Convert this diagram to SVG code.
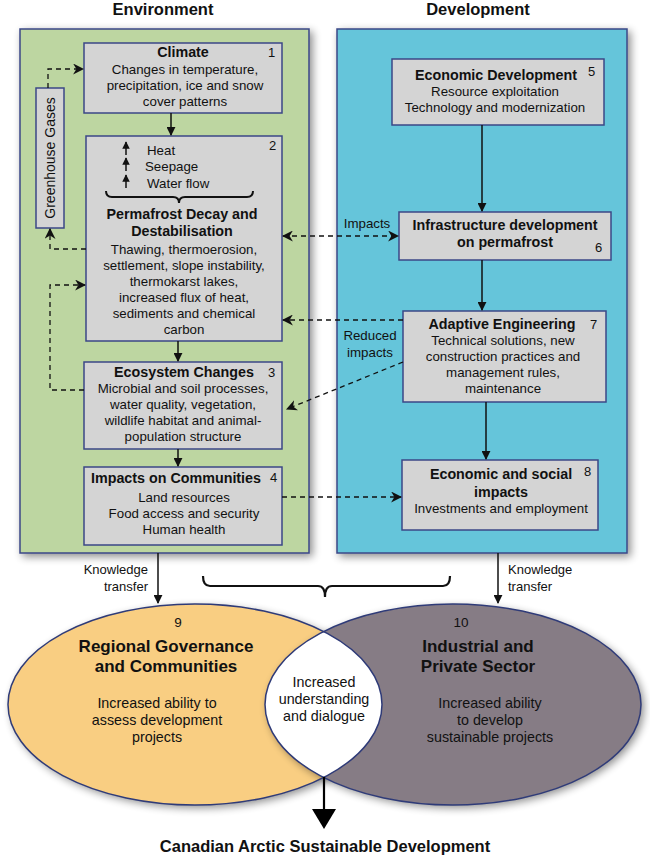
<svg xmlns="http://www.w3.org/2000/svg" width="650" height="856" viewBox="0 0 650 856">
<defs>
<style>
text{font-family:"Liberation Sans",Arial,sans-serif;fill:#111;}
.t{font-size:14.3px;font-weight:bold;text-anchor:middle;}
.b{font-size:13.3px;text-anchor:middle;}
.n{font-size:13px;}
.h{font-size:16.5px;font-weight:bold;text-anchor:middle;}
.box{fill:#d4d4d4;stroke:#3b4787;stroke-width:1.5;}
.sol{fill:none;stroke:#111;stroke-width:1.5;}
.dash{fill:none;stroke:#111;stroke-width:1.3;stroke-dasharray:5,4;}
</style>
<marker id="ah" viewBox="0 0 10 10" refX="9" refY="5" markerWidth="9" markerHeight="9" markerUnits="userSpaceOnUse" orient="auto"><path d="M0,0 L10,5 L0,10 z" fill="#111"/></marker>
<marker id="as" viewBox="0 0 10 10" refX="9" refY="5" markerWidth="7.5" markerHeight="7.5" markerUnits="userSpaceOnUse" orient="auto"><path d="M0,0 L10,5 L0,10 z" fill="#111"/></marker>
<marker id="ad" viewBox="0 0 10 10" refX="9" refY="5" markerWidth="11" markerHeight="11" markerUnits="userSpaceOnUse" orient="auto-start-reverse"><path d="M0,0 L10,5 L0,10 L3,5 z" fill="#111"/></marker>
<filter id="sh" x="-10%" y="-10%" width="125%" height="125%"><feGaussianBlur in="SourceAlpha" stdDeviation="4"/><feOffset dx="3" dy="3"/><feComponentTransfer><feFuncA type="linear" slope="0.45"/></feComponentTransfer><feMerge><feMergeNode/><feMergeNode in="SourceGraphic"/></feMerge></filter>
<clipPath id="clipR"><ellipse cx="453" cy="704.5" rx="188" ry="100.5"/></clipPath>
</defs>
<rect width="650" height="856" fill="#fff"/>

<g id="panel-environment">
<rect x="20" y="29" width="289" height="524" fill="#bdd6a1" stroke="#3b4787" stroke-width="1.5" filter="url(#sh)"/>
<text class="h" x="163" y="15">Environment</text>
</g>
<g id="panel-development">
<rect x="337" y="29" width="290" height="524" fill="#65c5da" stroke="#3b4787" stroke-width="1.5" filter="url(#sh)"/>
<text class="h" x="478" y="15">Development</text>
</g>

<g id="node-greenhouse">
<rect class="box" x="36" y="88" width="28" height="140"/>
<text class="b" transform="translate(55,158) rotate(-90)" style="font-size:14px">Greenhouse Gases</text>
</g>

<g id="node-1">
<rect class="box" x="84" y="43" width="198" height="70"/>
<text class="t" x="183" y="57">Climate</text>
<text class="n" x="268" y="57">1</text>
<text class="b" x="185" y="74">Changes in temperature,</text>
<text class="b" x="185" y="90">precipitation, ice and snow</text>
<text class="b" x="185" y="106">cover patterns</text>
</g>

<g id="node-2">
<rect class="box" x="86" y="136" width="196" height="205"/>
<text class="n" x="269" y="150">2</text>
<path d="M126,155 V142" class="sol" stroke-width="1.6" marker-end="url(#as)"/>
<path d="M126,171 V158" class="sol" stroke-width="1.6" marker-end="url(#as)"/>
<path d="M126,188 V175" class="sol" stroke-width="1.6" marker-end="url(#as)"/>
<text class="b" x="147" y="155" style="text-anchor:start">Heat</text>
<text class="b" x="145" y="171" style="text-anchor:start">Seepage</text>
<text class="b" x="147" y="188" style="text-anchor:start">Water flow</text>
<path d="M106,191 Q106,197 112,197 L173,197 Q179,197 179,203 Q179,197 185,197 L247,197 Q253,197 253,191" fill="none" stroke="#111" stroke-width="2"/>
<text class="t" x="182" y="219">Permafrost Decay and</text>
<text class="t" x="182" y="236">Destabilisation</text>
<text class="b" x="184" y="254">Thawing, thermoerosion,</text>
<text class="b" x="184" y="270">settlement, slope instability,</text>
<text class="b" x="184" y="286">thermokarst lakes,</text>
<text class="b" x="184" y="302">increased flux of heat,</text>
<text class="b" x="184" y="318">sediments and chemical</text>
<text class="b" x="184" y="334">carbon</text>
</g>

<g id="node-3">
<rect class="box" x="84" y="362" width="198" height="87"/>
<text class="t" x="184" y="377">Ecosystem Changes</text>
<text class="n" x="268" y="377">3</text>
<text class="b" x="183" y="393">Microbial and soil processes,</text>
<text class="b" x="183" y="409">water quality, vegetation,</text>
<text class="b" x="183" y="425">wildlife habitat and animal-</text>
<text class="b" x="183" y="441">population structure</text>
</g>

<g id="node-4">
<rect class="box" x="84" y="467" width="198" height="78"/>
<text class="t" x="176" y="483">Impacts on Communities</text>
<text class="n" x="270" y="482">4</text>
<text class="b" x="184" y="502">Land resources</text>
<text class="b" x="184" y="518">Food access and security</text>
<text class="b" x="184" y="534">Human health</text>
</g>

<g id="node-5">
<rect class="box" x="392" y="59" width="212" height="66"/>
<text class="t" x="496" y="80">Economic Development</text>
<text class="n" x="588" y="76">5</text>
<text class="b" x="495" y="96">Resource exploitation</text>
<text class="b" x="495" y="112">Technology and modernization</text>
</g>

<g id="node-6">
<rect class="box" x="399" y="212" width="212" height="48"/>
<text class="t" x="505" y="230">Infrastructure development</text>
<text class="t" x="505" y="247">on permafrost</text>
<text class="n" x="595" y="252">6</text>
</g>

<g id="node-7">
<rect class="box" x="403" y="311" width="203" height="91"/>
<text class="t" x="502" y="329">Adaptive Engineering</text>
<text class="n" x="590" y="329">7</text>
<text class="b" x="503" y="345">Technical solutions, new</text>
<text class="b" x="503" y="361">construction practices and</text>
<text class="b" x="503" y="377">management rules,</text>
<text class="b" x="503" y="393">maintenance</text>
</g>

<g id="node-8">
<rect class="box" x="402" y="460" width="196" height="70"/>
<text class="t" x="501" y="479">Economic and social</text>
<text class="t" x="501" y="497">impacts</text>
<text class="n" x="584" y="476">8</text>
<text class="b" x="501" y="513">Investments and employment</text>
</g>

<g id="connectors">
<path class="sol" d="M171,113 V135" marker-end="url(#ah)"/>
<path class="sol" d="M178,341 V361" marker-end="url(#ah)"/>
<path class="sol" d="M178,449 V466" marker-end="url(#ah)"/>
<path class="sol" d="M482,125 V211" marker-end="url(#ah)"/>
<path class="sol" d="M482,260 V310" marker-end="url(#ah)"/>
<path class="sol" d="M486,402 V459" marker-end="url(#ah)"/>
<path class="dash" d="M48,88 V69 H83" marker-end="url(#ad)"/>
<path class="dash" d="M86,249 H50 V229" marker-end="url(#ad)"/>
<path class="dash" d="M84,390 H50 V285 H85" marker-end="url(#ad)"/>
<path class="dash" d="M283,236 H398" marker-start="url(#ad)" marker-end="url(#ad)"/>
<path class="dash" d="M403,320 H283" marker-end="url(#ad)"/>
<path class="dash" d="M403,362 L287,409" marker-end="url(#ad)"/>
<path class="dash" d="M282,497 H401" marker-end="url(#ad)"/>
<text class="b" x="367" y="228">Impacts</text>
<text class="b" x="370" y="340">Reduced</text>
<text class="b" x="370" y="357">impacts</text>
<path class="sol" d="M158,553 V603" marker-end="url(#ah)"/>
<path class="sol" d="M498,553 V603" marker-end="url(#ah)"/>
<text class="n" x="148" y="574" style="text-anchor:end">Knowledge</text>
<text class="n" x="148" y="591" style="text-anchor:end">transfer</text>
<text class="n" x="508" y="574">Knowledge</text>
<text class="n" x="508" y="591">transfer</text>
<path d="M203,576 Q203,586 210,586 L318,586 Q325,586 325,597 Q325,586 332,586 L443,586 Q450,586 450,576" fill="none" stroke="#111" stroke-width="2.2"/>
</g>

<g id="node-9-10">
<ellipse cx="195" cy="704.5" rx="187" ry="100.5" fill="#f9ce82" filter="url(#sh)"/>
<ellipse cx="453" cy="704.5" rx="188" ry="100.5" fill="#867c85" filter="url(#sh)"/>
<ellipse cx="195" cy="704.5" rx="187" ry="100.5" fill="#fff" clip-path="url(#clipR)"/>
<ellipse cx="195" cy="704.5" rx="187" ry="100.5" fill="none" stroke="#2f3b78" stroke-width="1.5"/>
<ellipse cx="453" cy="704.5" rx="188" ry="100.5" fill="none" stroke="#2f3b78" stroke-width="1.5"/>
<text class="n" x="178" y="627" style="text-anchor:middle;font-size:13.5px">9</text>
<text class="n" x="461" y="627" style="text-anchor:middle;font-size:13.5px">10</text>
<text class="t" x="166" y="652" style="font-size:17px">Regional Governance</text>
<text class="t" x="166" y="672" style="font-size:17px">and Communities</text>
<text class="b" x="157" y="708" style="font-size:14.3px">Increased ability to</text>
<text class="b" x="157" y="725" style="font-size:14.3px">assess development</text>
<text class="b" x="157" y="742" style="font-size:14.3px">projects</text>
<text class="t" x="478" y="652" style="font-size:17px">Industrial and</text>
<text class="t" x="478" y="672" style="font-size:17px">Private Sector</text>
<text class="b" x="490" y="708" style="font-size:14.3px">Increased ability</text>
<text class="b" x="490" y="725" style="font-size:14.3px">to develop</text>
<text class="b" x="490" y="742" style="font-size:14.3px">sustainable projects</text>
<text class="b" x="324" y="687" style="font-size:14.3px">Increased</text>
<text class="b" x="324" y="704" style="font-size:14.3px">understanding</text>
<text class="b" x="324" y="721" style="font-size:14.3px">and dialogue</text>
</g>

<g id="outcome">
<path d="M324,777 V811" stroke="#000" stroke-width="2.2"/>
<path d="M312,809 H336 L324,829 z" fill="#000"/>
<text class="h" x="325" y="852">Canadian Arctic Sustainable Development</text>
</g>
</svg>
